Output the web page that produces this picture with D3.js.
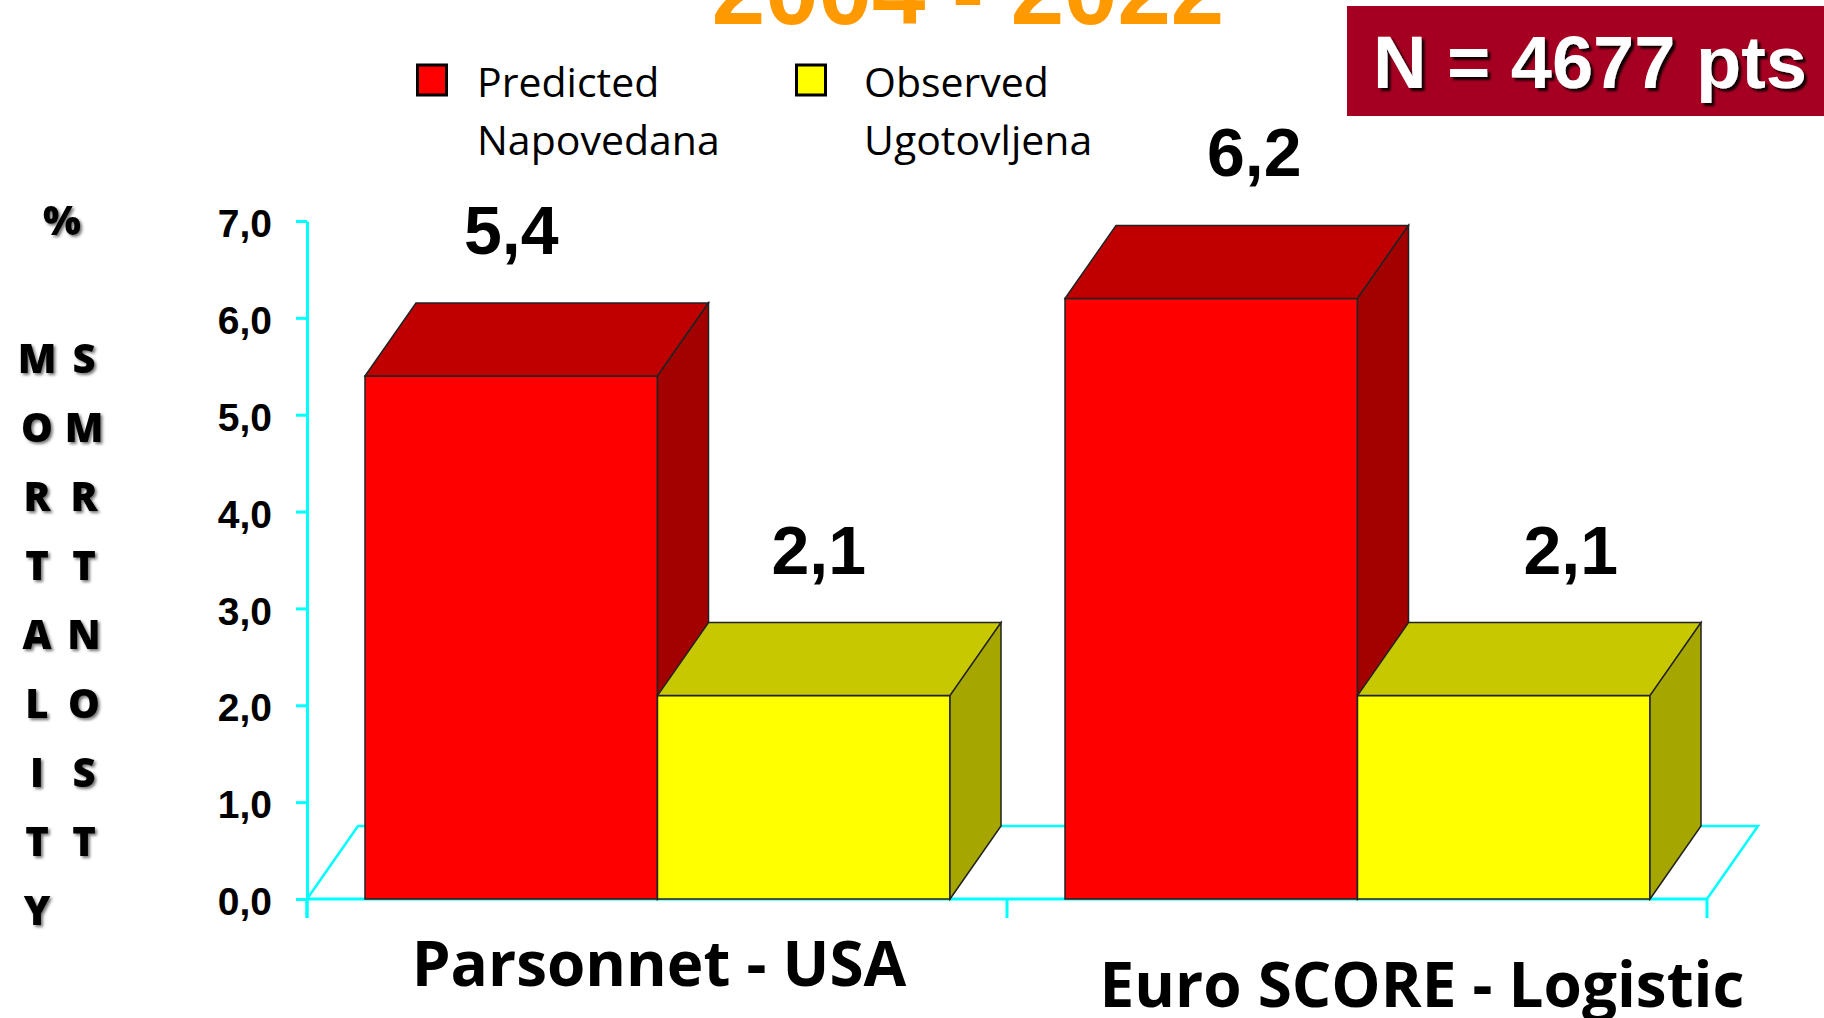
<!DOCTYPE html>
<html>
<head>
<meta charset="utf-8">
<script src="https://cdn.jsdelivr.net/npm/d3@7"></script>
<style>
  body { margin: 0; background: #fff; }
  svg { display: block; }
</style>
</head>
<body>
<div id="chart"></div>
<script>
// data
var categories = ["Parsonnet - USA", "Euro SCORE - Logistic"];
var seriesNames = ["Predicted", "Observed"];
var seriesNamesSl = ["Napovedana", "Ugotovljena"];
var predicted = [5.4, 6.2];
var observed = [2.1, 2.1];
var yTicks = [0, 1, 2, 3, 4, 5, 6, 7];
var titleText = "2004 - 2022";
var nText = "N = 4677 pts";
var yLetters1 = ["M", "O", "R", "T", "A", "L", "I", "T", "Y"];
var yLetters2 = ["S", "M", "R", "T", "N", "O", "S", "T"];

// layout tweaks (hand placed on the slide)
var valueNudge = [0, 15, 43, 67];
var catNudge = [{dx: 2, dy: 0}, {dx: 65, dy: 21}];

var W = 1824, H = 1018;
var depthX = 51, depthY = 73;

var colors = {
  Predicted: {front: "#ff0000", top: "#c00000", side: "#a30000"},
  Observed: {front: "#ffff00", top: "#c8c800", side: "#a6a600"}
};

var svg = d3.select("#chart").append("svg")
    .attr("width", W)
    .attr("height", H);

var defs = svg.append("defs");
defs.append("filter").attr("id", "shadow")
    .attr("x", "-20%").attr("y", "-20%").attr("width", "150%").attr("height", "150%")
  .append("feDropShadow")
    .attr("dx", 2).attr("dy", 2).attr("stdDeviation", 1.5)
    .attr("flood-color", "#000").attr("flood-opacity", 0.55);
defs.append("filter").attr("id", "nshadow")
    .attr("x", "-10%").attr("y", "-20%").attr("width", "130%").attr("height", "150%")
  .append("feDropShadow")
    .attr("dx", 3).attr("dy", 3).attr("stdDeviation", 1)
    .attr("flood-color", "#000").attr("flood-opacity", 0.9);

// scales
var x = d3.scaleBand()
    .domain(categories)
    .range([307, 1707]);
var x1 = d3.scaleBand()
    .domain(seriesNames)
    .range([58, x.bandwidth() - 57]);
var y = d3.scaleLinear()
    .domain([0, 7])
    .range([899, 221]);

var bars = [];
categories.forEach(function(c, i) {
  bars.push({cat: c, series: "Predicted", value: predicted[i]});
  bars.push({cat: c, series: "Observed", value: observed[i]});
});

// title (cut off at top like the slide)
svg.append("text")
    .attr("x", 968).attr("y", 24)
    .attr("text-anchor", "middle")
    .style("font-family", "Liberation Sans, Arial, sans-serif")
    .style("font-weight", "bold")
    .style("font-size", "96px")
    .style("fill", "#ff9900")
    .text(titleText);

// N box
svg.append("rect")
    .attr("x", 1347).attr("y", 6)
    .attr("width", W - 1347).attr("height", 110)
    .attr("fill", "#a50021");
svg.append("text")
    .attr("x", 1373).attr("y", 88)
    .style("font-family", "Liberation Sans, Arial, sans-serif")
    .style("font-weight", "bold")
    .style("font-size", "74px")
    .style("fill", "#fff")
    .attr("filter", "url(#nshadow)")
    .text(nText);

// legend
var legendX = [416, 795];
var legendTextX = [477, 864];
seriesNames.forEach(function(s, i) {
  svg.append("rect")
      .attr("x", legendX[i] + 1.5).attr("y", 65)
      .attr("width", 29).attr("height", 30)
      .attr("fill", colors[s].front)
      .attr("stroke", "#000")
      .attr("stroke-width", 3);
  svg.append("text")
      .attr("x", legendTextX[i]).attr("y", 97)
      .style("font-family", "Open Sans, sans-serif")
      .style("font-size", "41px")
      .text(s);
  svg.append("text")
      .attr("x", legendTextX[i]).attr("y", 155)
      .style("font-family", "Open Sans, sans-serif")
      .style("font-size", "41px")
      .text(seriesNamesSl[i]);
});

// y label
var lab = svg.append("g")
    .style("font-family", "Open Sans, sans-serif")
    .style("font-weight", "800")
    .style("font-size", "40px")
    .attr("text-anchor", "middle")
    .attr("filter", "url(#shadow)");
lab.append("text").attr("x", 62).attr("y", 235).text("%");
lab.selectAll(".l1").data(yLetters1).enter().append("text")
    .attr("x", 37)
    .attr("y", function(d, i) { return 373 + i * 69; })
    .text(function(d) { return d; });
lab.selectAll(".l2").data(yLetters2).enter().append("text")
    .attr("x", 84)
    .attr("y", function(d, i) { return 373 + i * 69; })
    .text(function(d) { return d; });

// floor
var cyan = "#00ffff";
var x0 = x.range()[0], xEnd = x.range()[1];
svg.append("path")
    .attr("d", "M" + x0 + "," + y(0) +
               "L" + (x0 + depthX) + "," + (y(0) - depthY) +
               "L" + (xEnd + depthX) + "," + (y(0) - depthY) +
               "L" + xEnd + "," + y(0))
    .attr("fill", "none")
    .attr("stroke", cyan)
    .attr("stroke-width", 2.5);

// y axis
var yAxis = svg.append("g")
    .attr("transform", "translate(" + x0 + ",0)")
    .call(d3.axisLeft(y)
      .tickValues(yTicks)
      .tickSize(11)
      .tickSizeOuter(0)
      .tickPadding(24)
      .tickFormat(function(d) { return d3.format(".1f")(d).replace(".", ","); }));
yAxis.select(".domain").attr("stroke", cyan).attr("stroke-width", 3);
yAxis.selectAll(".tick line").attr("stroke", cyan).attr("stroke-width", 3);
yAxis.selectAll(".tick text")
    .attr("dy", "0.4em")
    .style("font-family", "Liberation Sans, Arial, sans-serif")
    .style("font-weight", "bold")
    .style("font-size", "39px")
    .style("fill", "#000");
yAxis.append("line")
    .attr("x1", 0).attr("x2", 0)
    .attr("y1", y(0)).attr("y2", y(0) + 19)
    .attr("stroke", cyan).attr("stroke-width", 3);

// x axis
svg.append("line")
    .attr("x1", x0).attr("x2", xEnd)
    .attr("y1", y(0)).attr("y2", y(0))
    .attr("stroke", cyan).attr("stroke-width", 3);
var bounds = categories.map(function(c) { return x(c); }).concat([xEnd]);
svg.selectAll(".xtick").data(bounds).enter().append("line")
    .attr("x1", function(d) { return d; })
    .attr("x2", function(d) { return d; })
    .attr("y1", y(0)).attr("y2", y(0) + 19)
    .attr("stroke", cyan).attr("stroke-width", 3);

// 3d bars
var barG = svg.selectAll(".bar").data(bars).enter().append("g")
    .attr("class", "bar");
function bx(d) { return x(d.cat) + x1(d.series); }
var bw = x1.bandwidth();

barG.append("rect")
    .attr("x", bx)
    .attr("y", function(d) { return y(d.value); })
    .attr("width", bw)
    .attr("height", function(d) { return y(0) - y(d.value); })
    .attr("fill", function(d) { return colors[d.series].front; })
    .attr("stroke", "#222").attr("stroke-width", 1.5);
barG.append("path")
    .attr("d", function(d) {
      var l = bx(d), r = l + bw, t = y(d.value);
      return "M" + l + "," + t + "L" + (l + depthX) + "," + (t - depthY) +
             "L" + (r + depthX) + "," + (t - depthY) + "L" + r + "," + t + "Z";
    })
    .attr("fill", function(d) { return colors[d.series].top; })
    .attr("stroke", "#222").attr("stroke-width", 1.5);
barG.append("path")
    .attr("d", function(d) {
      var r = bx(d) + bw, t = y(d.value), b = y(0);
      return "M" + r + "," + t + "L" + (r + depthX) + "," + (t - depthY) +
             "L" + (r + depthX) + "," + (b - depthY) + "L" + r + "," + b + "Z";
    })
    .attr("fill", function(d) { return colors[d.series].side; })
    .attr("stroke", "#222").attr("stroke-width", 1.5);

// value labels
svg.selectAll(".val").data(bars).enter().append("text")
    .attr("x", function(d, i) { return bx(d) + bw / 2 + valueNudge[i]; })
    .attr("y", function(d) { return y(d.value) - depthY - 49; })
    .attr("text-anchor", "middle")
    .style("font-family", "Liberation Sans, Arial, sans-serif")
    .style("font-weight", "bold")
    .style("font-size", "68px")
    .text(function(d) { return d3.format(".1f")(d.value).replace(".", ","); });

// category labels
svg.selectAll(".cat").data(categories).enter().append("text")
    .attr("x", function(d, i) { return x(d) + x.bandwidth() / 2 + catNudge[i].dx; })
    .attr("y", function(d, i) { return 986 + catNudge[i].dy; })
    .attr("text-anchor", "middle")
    .style("font-family", "Open Sans, sans-serif")
    .style("font-weight", "bold")
    .style("font-size", "62px")
    .text(function(d) { return d; });
</script>
</body>
</html>
